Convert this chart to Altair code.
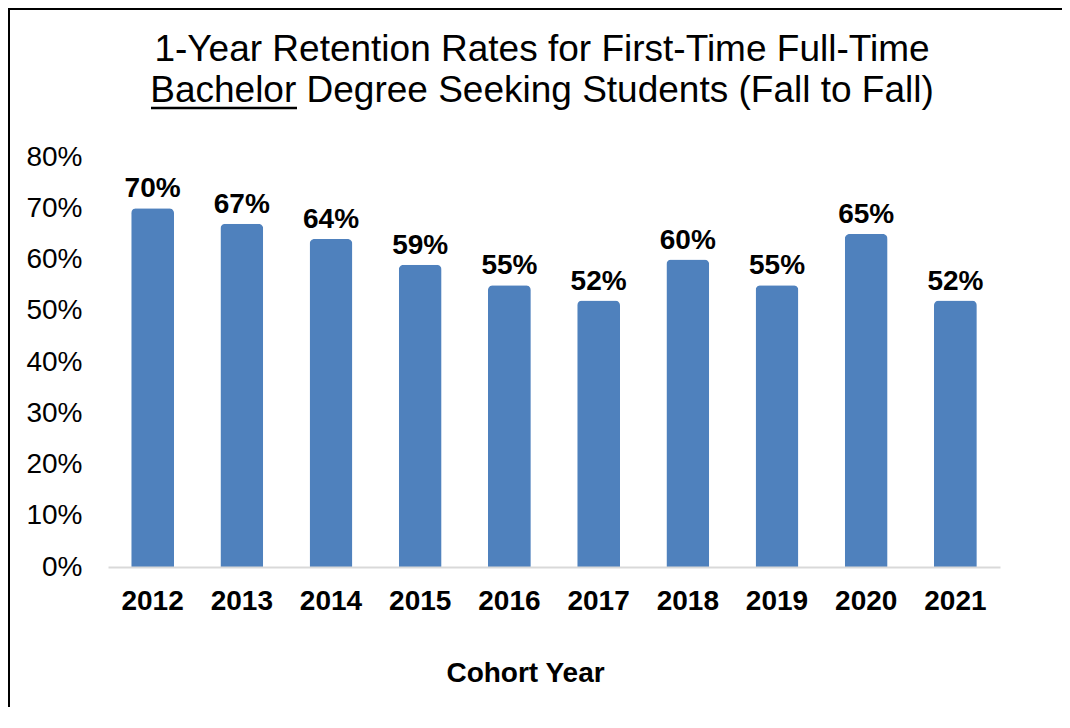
import altair as alt
import pandas as pd

years = ["2012", "2013", "2014", "2015", "2016", "2017", "2018", "2019", "2020", "2021"]
rates = [0.70, 0.67, 0.64, 0.59, 0.55, 0.52, 0.60, 0.55, 0.65, 0.52]
y_ticks = [0, 0.1, 0.2, 0.3, 0.4, 0.5, 0.6, 0.7, 0.8]
title_lines = ["1-Year Retention Rates for First-Time Full-Time",
               "Bachelor Degree Seeking Students (Fall to Fall)"]
x_title = "Cohort Year"

df = pd.DataFrame({"year": years, "rate": rates})

FONT = "Liberation Sans"
W, H = 892, 410

x_enc = alt.X("year:N", sort=years, title=x_title,
              scale=alt.Scale(paddingInner=0.52, paddingOuter=0.26),
              axis=alt.Axis(labelAngle=0, labelFont=FONT, labelFontSize=28,
                            labelFontWeight="bold", labelColor="black",
                            labelBaseline="alphabetic", labelPadding=42,
                            ticks=False, tickSize=0, domainColor="#D9D9D9",
                            domainWidth=2, zindex=1,
                            titleFont=FONT, titleFontSize=28, titleFontWeight="bold",
                            titleColor="black", titleX=417, titleY=114,
                            titleBaseline="alphabetic", titleAnchor="start",
                            titleAlign="center"))
y_enc = alt.Y("rate:Q", title=None,
              scale=alt.Scale(domain=[0, 0.8], nice=False),
              axis=alt.Axis(values=y_ticks, format=".0%", labelFont=FONT,
                            labelFontSize=28, labelColor="black", labelPadding=26,
                            ticks=False, tickSize=0, domain=False, grid=False))

bars = alt.Chart(df).mark_bar(color="#4F81BD", cornerRadiusTopLeft=5,
                              cornerRadiusTopRight=5).encode(x=x_enc, y=y_enc)

labels = alt.Chart(df).mark_text(font=FONT, fontSize=28, fontWeight="bold",
                                 color="black", baseline="alphabetic", dy=-11).encode(
    x=alt.X("year:N", sort=years),
    y=alt.Y("rate:Q"),
    text=alt.Text("rate:Q", format=".0%"))

one = alt.Data(values=[{"k": 0}])
title1 = alt.Chart(one).mark_text(font=FONT, fontSize=37, color="black",
                                  align="center", baseline="alphabetic").encode(
    x=alt.value(434), y=alt.value(-96), text=alt.value(title_lines[0]))
title2 = alt.Chart(one).mark_text(font=FONT, fontSize=37, color="black",
                                  align="center", baseline="alphabetic").encode(
    x=alt.value(434), y=alt.value(-55), text=alt.value(title_lines[1]))
underline = alt.Chart(one).mark_rule(color="black", strokeWidth=2.5).encode(
    x=alt.value(43), x2=alt.value(189), y=alt.value(-49))
border_left = alt.Chart(one).mark_rule(color="black", strokeWidth=2).encode(
    x=alt.value(-99), y=alt.value(-148), y2=alt.value(560))
border_top = alt.Chart(one).mark_rule(color="black", strokeWidth=2).encode(
    x=alt.value(-100), x2=alt.value(970), y=alt.value(-148))

chart = alt.layer(bars, labels, title1, title2, underline, border_left, border_top).properties(
    width=W, height=H,
    autosize=alt.AutoSizeParams(type="none"),
    padding={"left": 100, "top": 149, "right": 62, "bottom": 140},
).configure_view(strokeWidth=0)

chart.save("out.html", embed_options={"renderer": "svg", "actions": False})
